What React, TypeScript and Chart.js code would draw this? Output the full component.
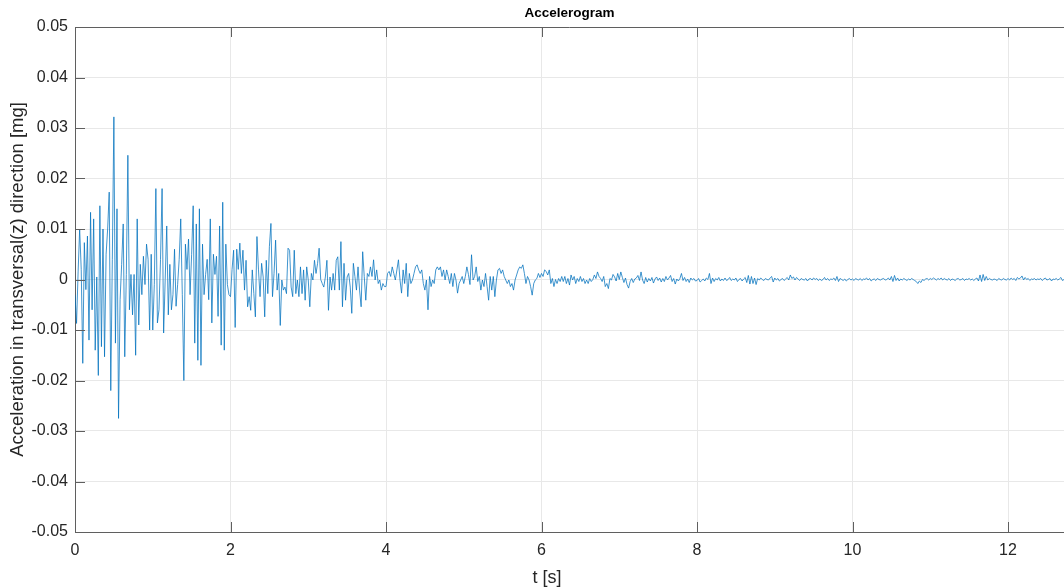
import React, { useEffect, useRef } from "react";
import { Chart, registerables } from "chart.js";

Chart.register(...registerables);

// sampling step of the record [s] and visible end of the time axis
const DT = 0.02;
const T_MAX = 12.72;

// acceleration samples, 0.00 s – 1.98 s
const accel0to2 = [
  -0.003, -0.0087, 0.0015, 0.01, 0.002, -0.0166, 0.0073, -0.002, 0.0086, -0.012,
  0.0133, -0.006, 0.012, -0.014, 0.0005, -0.019, 0.0146, -0.0133, 0.01, -0.0153,
  0.005, 0.01, 0.0173, -0.022, 0.004, 0.0322, -0.0126, 0.014, -0.0275, -0.004,
  0.003, 0.011, -0.0153, 0.001, 0.0246, -0.006, 0.001, -0.007, 0.001, -0.015,
  0.012, -0.009, 0.003, -0.003, 0.0046, -0.001, 0.007, 0.004, -0.01, 0.005,
  -0.01, -0.001, 0.018, -0.0086, -0.006, 0.004, 0.018, -0.0106, 0.0, 0.0106,
  -0.007, 0.003, -0.006, -0.003, 0.006, -0.0053, -0.001, 0.004, 0.012, -0.003,
  -0.02, 0.007, 0.002, 0.008, -0.003, 0.005, 0.0146, -0.0126, 0.011, -0.016,
  0.014, -0.017, 0.007, -0.003, 0.001, 0.004, -0.004, 0.012, -0.0086, 0.005,
  0.001, 0.0046, -0.0073, 0.0106, -0.013, 0.0153, -0.014, 0.007, -0.001, -0.003,
];

// 2.00 s – 3.98 s
const accel2to4 = [
  -0.0034, 0.002, 0.0058, -0.0095, 0.006, 0.002, 0.0072, 0.0012, 0.0058, -0.0021,
  0.0038, -0.0054, -0.0034, -0.0061, 0.0019, -0.0028, -0.0074, 0.0085, 0.0019, -0.0034,
  0.0032, 0.0005, -0.0074, 0.0038, -0.0028, 0.0065, 0.0111, -0.0034, 0.0012, 0.0078,
  -0.0021, 0.0012, -0.0091, -0.0001, -0.0021, -0.0015, -0.0028, 0.0062, 0.0058, -0.0015,
  -0.0034, 0.0058, -0.0028, -0.0001, -0.0034, 0.0025, -0.0028, 0.0019, -0.0041, 0.0025,
  -0.0001, -0.0054, 0.0012, -0.0001, 0.0038, 0.0012, 0.0032, 0.0062, 0.0, -0.0008,
  -0.0015, 0.0005, 0.0038, -0.0061, 0.0005, -0.0021, 0.0012, -0.0021, 0.0038, 0.0045,
  -0.0021, 0.0075, -0.0054, 0.0032, -0.0041, 0.0005, 0.0012, -0.0015, -0.0067, 0.0032,
  0.0006, -0.0021, 0.0025, -0.0021, -0.0054, 0.0055, 0.0006, -0.0041, 0.0012, 0.0006,
  0.0025, 0.0006, 0.0039, -0.0001, 0.0019, -0.0008, -0.0001, -0.0021, -0.0008, -0.0014,
];

// 4.00 s – 5.98 s
const accel4to6 = [
  -0.0014, 0.0012, 0.0016, 0.0006, 0.0025, 0.0012, -0.0001, 0.0019, 0.0039, -0.0001,
  -0.0027, 0.0019, -0.0008, 0.0032, -0.0034, 0.0012, -0.0008, -0.0001, 0.0012, 0.0025,
  0.0029, 0.0019, 0.0012, 0.0019, -0.0008, -0.0021, -0.0001, -0.006, 0.0006, -0.0014,
  -0.0001, -0.0008, 0.0019, 0.0025, 0.0019, 0.0025, 0.0006, 0.0019, -0.0001, 0.0019,
  0.0006, -0.0008, 0.0012, -0.0014, 0.0012, -0.0001, -0.0027, -0.0008, -0.0001, 0.0006,
  -0.0008, 0.0006, 0.0025, 0.001, -0.001, 0.0049, -0.0001, 0.0006, 0.0025, -0.0004,
  0.0006, -0.0021, -0.0001, -0.0014, 0.0012, -0.0014, -0.0041, 0.0006, -0.0021, 0.0006,
  -0.0034, -0.0001, 0.0019, 0.0022, 0.0012, 0.0019, 0.0006, -0.0001, -0.0008, -0.0001,
  -0.0014, -0.0008, -0.0021, -0.0001, 0.0009, 0.0019, 0.0025, 0.0022, 0.0029, 0.0012,
  -0.0008, 0.0006, -0.0001, -0.0014, -0.0031, -0.0008, -0.0001, 0.0002, 0.0012, 0.0004,
];

// 6.00 s – 7.98 s
const accel6to8 = [
  0.0012, 0.0006, 0.0019, 0.0016, 0.0009, 0.0019, -0.0008, 0.0002, -0.0014, 0.0,
  -0.0008, 0.0002, -0.0004, 0.0006, -0.0004, 0.0006, -0.0008, 0.0002, -0.0011, 0.0009,
  -0.0001, 0.0006, -0.0008, 0.0002, -0.0004, 0.0006, -0.0004, 0.0002, -0.0008, -0.0001,
  -0.0008, 0.0002, -0.0004, 0.0, 0.0009, 0.0002, 0.0015, 0.0006, 0.0002, -0.0004,
  0.0006, -0.0014, -0.0008, -0.0018, 0.0002, -0.0001, 0.001, 0.0005, -0.0003, 0.0012,
  0.0, 0.0015, 0.0004, -0.0006, 0.0003, -0.001, -0.0017, -0.0004, 0.0002, -0.0006,
  0.0001, 0.0003, 0.0008, -0.0002, 0.0015, -0.0001, -0.0008, 0.0004, -0.0005, 0.0002,
  -0.0003, 0.0004, -0.0007, 0.0001, 0.0005, -0.0002, 0.0003, -0.0005, 0.0002, -0.0004,
  0.0006, -0.0001, 0.0003, 0.0008, -0.0004, 0.0002, -0.0009, 0.0001, -0.0003, 0.0002,
  0.0012, -0.0002, 0.0004, -0.0004, 0.0001, -0.0006, 0.0003, -0.0001, 0.0002, -0.0003,
];

// 8.00 s – 9.98 s
const accel8to10 = [
  -0.0002, 0.0002, -0.0005, -0.0002, 0.0001, -0.0003, 0.0003, 0.0, 0.0012, -0.0008,
  0.0003, -0.0004, 0.0002, -0.0001, 0.0004, -0.0003, 0.0001, -0.0002, 0.0003, -0.0002,
  0.0, 0.0004, -0.0002, 0.0001, -0.0001, 0.0003, -0.0004, 0.0, 0.0002, -0.0003,
  0.0001, 0.0004, -0.0006, 0.0008, -0.0009, 0.0006, -0.0008, 0.0003, -0.001, 0.0002,
  -0.0001, 0.0003, 0.0, -0.0002, 0.0002, 0.0, -0.0001, 0.0003, 0.0006, -0.0005,
  0.0003, -0.0001, 0.0002, -0.0003, 0.0, 0.0002, -0.0002, 0.0001, 0.0004, -0.0001,
  0.0009, 0.0002, 0.0005, -0.0001, 0.0004, 0.0001, -0.0002, 0.0002, 0.0, -0.0001,
  0.0002, -0.0003, 0.0001, 0.0002, -0.0001, 0.0003, 0.0, 0.0002, -0.0002, 0.0001,
  -0.0002, 0.0, 0.0004, -0.0001, 0.0002, -0.0002, 0.0001, 0.0, 0.0003, -0.0002,
  0.0006, -0.0004, 0.0002, 0.0, -0.0002, 0.0001, -0.0003, 0.0, 0.0002, -0.0001,
];

// 10.00 s – 11.98 s
const accel10to12 = [
  0.0001, -0.0002, 0.0002, 0.0, -0.0001, 0.0002, -0.0002, 0.0001, 0.0, 0.0003,
  -0.0001, 0.0002, -0.0003, 0.0, 0.0001, -0.0002, 0.0002, 0.0, -0.0001, 0.0001,
  0.0002, -0.0001, 0.0, 0.0003, -0.0001, 0.0006, -0.0004, 0.0008, -0.0002, 0.0003,
  -0.0003, 0.0001, -0.0001, 0.0002, 0.0, -0.0002, 0.0001, -0.0001, 0.0002, 0.0,
  -0.0002, -0.0004, -0.0008, -0.0003, -0.0006, 0.0, -0.0002, 0.0001, 0.0002, -0.0001,
  0.0002, 0.0, 0.0003, 0.0001, -0.0001, 0.0002, 0.0, 0.0003, -0.0001, 0.0002,
  0.0, -0.0001, 0.0002, -0.0002, 0.0001, 0.0, -0.0002, 0.0001, 0.0002, -0.0001,
  0.0, 0.0002, -0.0002, 0.0001, 0.0, 0.0002, -0.0001, 0.0001, -0.0002, 0.0001,
  0.0003, -0.0003, 0.0009, -0.0004, 0.001, -0.0002, 0.0006, -0.0001, 0.0002, 0.0,
  -0.0001, 0.0001, 0.0, -0.0002, 0.0002, 0.0, -0.0001, 0.0002, 0.0, -0.0001,
];

// 12.00 s – 12.72 s
const accel12toEnd = [
  0.0002, -0.0001, 0.0003, 0.0, 0.0002, -0.0002, 0.0004, 0.0001, 0.0003, 0.0007,
  -0.0001, 0.0004, 0.0, 0.0002, -0.0002, 0.0001, 0.0, 0.0002, -0.0001, 0.0001,
  0.0, 0.0002, -0.0002, 0.0001, 0.0003, -0.0001, 0.0, 0.0002, -0.0003, 0.0001,
  0.0, 0.0002, -0.0001, 0.0001, 0.0004, -0.0002, 0.0,
];

const xTickValues = [0, 2, 4, 6, 8, 10, 12];
const yTickValues = [-0.05, -0.04, -0.03, -0.02, -0.01, 0, 0.01, 0.02, 0.03, 0.04, 0.05];

const TITLE = "Accelerogram";
const X_LABEL = "t [s]";
const Y_LABEL = "Acceleration in transversal(z) direction [mg]";

const FONT = "'Liberation Sans', Arial, Helvetica, sans-serif";
const AXIS_COLOR = "#5f5f5f";
const GRID_COLOR = "#e8e8e8";
const TEXT_COLOR = "#262626";

const framePlugin = {
  id: "matlabFrame",
  afterDatasetsDraw(chart: any) {
    const { ctx, chartArea, scales } = chart;
    const { left, right, top, bottom } = chartArea;
    const tickLen = 10;
    ctx.save();
    ctx.strokeStyle = AXIS_COLOR;
    ctx.lineWidth = 1;
    ctx.beginPath();
    ctx.moveTo(left, Math.round(top) + 0.5);
    ctx.lineTo(right, Math.round(top) + 0.5);
    xTickValues.forEach((v) => {
      const px = Math.round(scales.x.getPixelForValue(v)) + 0.5;
      ctx.moveTo(px, bottom);
      ctx.lineTo(px, bottom - tickLen);
      ctx.moveTo(px, top);
      ctx.lineTo(px, top + tickLen);
    });
    yTickValues.forEach((v) => {
      const py = Math.round(scales.y.getPixelForValue(v)) + 0.5;
      ctx.moveTo(left, py);
      ctx.lineTo(left + tickLen, py);
    });
    ctx.stroke();

    // x-axis label, placed as in the source figure
    ctx.fillStyle = TEXT_COLOR;
    ctx.font = `18px ${FONT}`;
    ctx.textAlign = "center";
    ctx.textBaseline = "middle";
    ctx.fillText(X_LABEL, 547, 578);
    ctx.restore();
  },
};

export default function App() {
  const ref = useRef<HTMLCanvasElement>(null);

  useEffect(() => {
    const samples = [
      ...accel0to2,
      ...accel2to4,
      ...accel4to6,
      ...accel6to8,
      ...accel8to10,
      ...accel10to12,
      ...accel12toEnd,
    ];
    const points = samples.map((v, i) => ({ x: Math.round(i * DT * 100) / 100, y: v }));

    const chart = new Chart(ref.current as HTMLCanvasElement, {
      type: "line",
      data: {
        datasets: [
          {
            data: points,
            borderColor: "#0072BD",
            borderWidth: 0.75,
            pointRadius: 0,
            tension: 0,
            fill: false,
          },
        ],
      },
      options: {
        responsive: false,
        animation: false,
        devicePixelRatio: 1,
        events: [],
        layout: { padding: 0 },
        plugins: {
          legend: { display: false },
          tooltip: { enabled: false },
          title: {
            display: true,
            fullSize: false,
            text: TITLE,
            color: "#000",
            font: { family: FONT, size: 13.5, weight: "bold" },
            padding: { top: 5, bottom: 5.8 },
          },
        },
        scales: {
          x: {
            type: "linear",
            min: 0,
            max: T_MAX,
            afterFit: (s: any) => {
              s.height = 56;
            },
            ticks: {
              stepSize: 2,
              includeBounds: false,
              autoSkip: false,
              maxRotation: 0,
              padding: 9,
              color: TEXT_COLOR,
              font: { family: FONT, size: 16 },
              callback: (v: any) => String(Math.round(Number(v) * 100) / 100),
            },
            grid: { color: GRID_COLOR, drawTicks: false },
            border: { display: true, color: AXIS_COLOR, width: 1 },
            title: { display: false },
          },
          y: {
            type: "linear",
            min: -0.05,
            max: 0.05,
            afterFit: (s: any) => {
              s.width = 75;
            },
            ticks: {
              stepSize: 0.01,
              autoSkip: false,
              padding: 7,
              color: TEXT_COLOR,
              font: { family: FONT, size: 16 },
              callback: (v: any) => String(Math.round(Number(v) * 100) / 100),
            },
            grid: { color: GRID_COLOR, drawTicks: false },
            border: { display: true, color: AXIS_COLOR, width: 1 },
            title: {
              display: true,
              text: Y_LABEL,
              color: TEXT_COLOR,
              font: { family: FONT, size: 18.5 },
              padding: { top: 7, bottom: 0 },
            },
          },
        },
      },
      plugins: [framePlugin],
    } as any);

    return () => chart.destroy();
  }, []);

  return (
    <div style={{ position: "absolute", left: 0, top: 0, width: 1064, height: 588, background: "#fff" }}>
      <canvas ref={ref} width={1064} height={588} style={{ display: "block", width: 1064, height: 588 }} />
    </div>
  );
}
